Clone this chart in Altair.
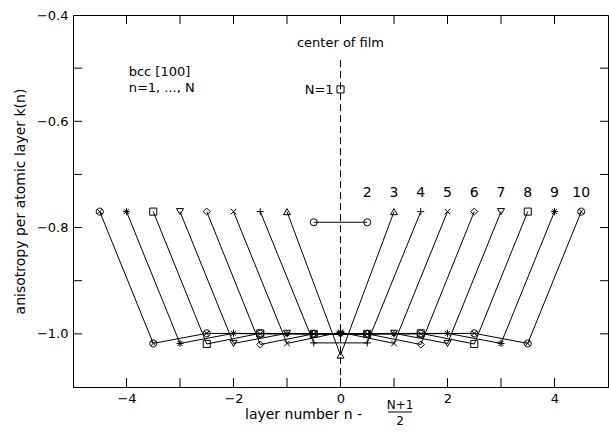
import altair as alt
import pandas as pd

# ---- data ----
N_values = [1, 2, 3, 4, 5, 6, 7, 8, 9, 10]
k_N1 = [-0.54]
k_N2 = [-0.79, -0.79]
k_N3 = [-0.77, -1.04, -0.77]
k_N4 = [-0.77, -1.017, -1.017, -0.77]
k_N5 = [-0.77, -1.018, -0.997, -1.018, -0.77]
k_N6 = [-0.77, -1.02, -1.0, -1.0, -1.02, -0.77]
k_N7 = [-0.77, -1.018, -0.999, -1.001, -0.999, -1.018, -0.77]
k_N8 = [-0.77, -1.019, -0.999, -1.0, -1.0, -0.999, -1.019, -0.77]
k_N9 = [-0.77, -1.018, -0.999, -1.0, -1.0, -1.0, -0.999, -1.018, -0.77]
k_N10 = [-0.77, -1.018, -0.999, -1.0, -1.0, -1.0, -1.0, -0.999, -1.018, -0.77]
k_lists = [k_N1, k_N2, k_N3, k_N4, k_N5, k_N6, k_N7, k_N8, k_N9, k_N10]

x_ticks = [-4, -3, -2, -1, 0, 1, 2, 3, 4]
y_ticks = [-1.0, -0.9, -0.8, -0.7, -0.6, -0.5]

label_N = [2, 3, 4, 5, 6, 7, 8, 9, 10]
label_y = [-0.735] * len(label_N)

center_x = [0]
center_top = [-0.485]
center_bottom = [-1.1]

ann_text = ["center of film", "bcc [100]", "n=1, ..., N", "N=1"]
ann_x = [0.0, -3.96, -3.96, -0.13]
ann_y = [-0.453, -0.507, -0.538, -0.541]
ann_align = ["center", "left", "left", "right"]

PLUS = "M-1,0L1,0M0,-1L0,1"
CROSS = "M-0.8,-0.8L0.8,0.8M-0.8,0.8L0.8,-0.8"
STAR = "M-1,0L1,0M0,-1L0,1M-0.7,-0.7L0.7,0.7M-0.7,0.7L0.7,-0.7"
OPLUS = ("M-1,0A1,1 0 1,0 1,0A1,1 0 1,0 -1,0Z"
         "M-0.7,-0.7L0.7,0.7M-0.7,0.7L0.7,-0.7")
shape_range = ["square", "circle", "triangle-up", PLUS, CROSS, "diamond",
               "triangle-down", "square", STAR, OPLUS]

rows = []
for N, ks in zip(N_values, k_lists):
    for n, k in enumerate(ks, start=1):
        rows.append({"N": N, "x": n - (N + 1) / 2, "k": k})
df = pd.DataFrame(rows)

lab_x = [df[df.N == N].x.max() for N in label_N]
df_lab = pd.DataFrame({"N": [str(v) for v in label_N], "x": lab_x, "k": label_y})
df_center = pd.DataFrame({"x": center_x, "y": center_top, "y2": center_bottom})
df_ann = pd.DataFrame({"t": ann_text, "x": ann_x, "k": ann_y, "a": ann_align})
df_xt = pd.DataFrame({"x": x_ticks})
df_yt = pd.DataFrame({"y": y_ticks})

FONT = "DejaVu Sans"
xs = alt.Scale(domain=[-5, 5], nice=False, zero=False)
ys = alt.Scale(domain=[-1.1, -0.4], nice=False, zero=False)

common = dict(labelFont=FONT, titleFont=FONT, labelFontSize=13, titleFontSize=14,
              titleFontWeight="normal", labelColor="black", titleColor="black",
              domainColor="black", domainWidth=1, grid=False, ticks=False)

ax_bottom = alt.Axis(values=x_ticks,
                     labelExpr="datum.value % 2 == 0 ? datum.label : ''",
                     title=None, labelPadding=5, labelFlush=False, **common)
ax_left = alt.Axis(values=[-1.0, -0.8, -0.6, -0.4], format=".1f",
                   title="anisotropy per atomic layer k(n)",
                   labelPadding=5, titlePadding=9, labelFlush=False, **common)

lines = alt.Chart(df).mark_line(color="black", strokeWidth=1).encode(
    x=alt.X("x:Q", scale=xs, axis=ax_bottom),
    y=alt.Y("k:Q", scale=ys, axis=ax_left),
    detail="N:N",
    order="x:Q",
)

points = alt.Chart(df).mark_point(filled=False, color="black", strokeWidth=1,
                                  opacity=1, size=50).encode(
    x=alt.X("x:Q", scale=xs),
    y=alt.Y("k:Q", scale=ys),
    shape=alt.Shape("N:N", scale=alt.Scale(domain=N_values, range=shape_range), legend=None),
)

center = alt.Chart(df_center).mark_rule(color="black", strokeWidth=1,
                                        strokeDash=[7, 4]).encode(
    x=alt.X("x:Q", scale=xs),
    y=alt.Y("y:Q", scale=ys),
    y2="y2:Q",
)

# inward ticks on all four sides
tick_bottom = alt.Chart(df_xt).mark_rule(color="black", strokeWidth=1).encode(
    x=alt.X("x:Q", scale=xs), y=alt.value(372), y2=alt.value(363))
tick_top = alt.Chart(df_xt).mark_rule(color="black", strokeWidth=1).encode(
    x=alt.X("x:Q", scale=xs), y=alt.value(0), y2=alt.value(9))
tick_left = alt.Chart(df_yt).mark_rule(color="black", strokeWidth=1).encode(
    y=alt.Y("y:Q", scale=ys), x=alt.value(0), x2=alt.value(9))
tick_right = alt.Chart(df_yt).mark_rule(color="black", strokeWidth=1).encode(
    y=alt.Y("y:Q", scale=ys), x=alt.value(535), x2=alt.value(527))

nlabels = alt.Chart(df_lab).mark_text(font=FONT, fontSize=14, color="black").encode(
    x=alt.X("x:Q", scale=xs), y=alt.Y("k:Q", scale=ys), text="N:N")

ann_layers = []
for a in ["center", "left", "right"]:
    ann_layers.append(
        alt.Chart(df_ann[df_ann.a == a]).mark_text(font=FONT, fontSize=13, color="black",
                                                  align=a).encode(
            x=alt.X("x:Q", scale=xs), y=alt.Y("k:Q", scale=ys), text="t:N"))

# x-axis title with fraction
xt1 = alt.Chart(pd.DataFrame({"t": ["layer number    n -"]})).mark_text(
    font=FONT, fontSize=14, color="black", align="left", baseline="middle").encode(
    x=alt.value(172), y=alt.value(400), text="t:N")
xt2 = alt.Chart(pd.DataFrame({"t": ["N+1"]})).mark_text(
    font=FONT, fontSize=12, color="black", align="center", baseline="middle").encode(
    x=alt.value(327), y=alt.value(390), text="t:N")
xt3 = alt.Chart(pd.DataFrame({"t": ["2"]})).mark_text(
    font=FONT, fontSize=12, color="black", align="center", baseline="middle").encode(
    x=alt.value(327), y=alt.value(406), text="t:N")
xbar = alt.Chart(pd.DataFrame({"t": [1]})).mark_rule(color="black", strokeWidth=1).encode(
    x=alt.value(315), x2=alt.value(339), y=alt.value(397))

chart = alt.layer(lines, center, tick_bottom, tick_top, tick_left, tick_right,
                  points, nlabels, *ann_layers, xt1, xt2, xt3, xbar).properties(
    width=535, height=372,
    background="white",
    autosize=alt.AutoSizeParams(type="none"),
    padding={"left": 73, "top": 15, "right": 1, "bottom": 59},
).configure_view(stroke="black", strokeWidth=1)

chart.save("out.html", embed_options={"renderer": "svg", "actions": False})
